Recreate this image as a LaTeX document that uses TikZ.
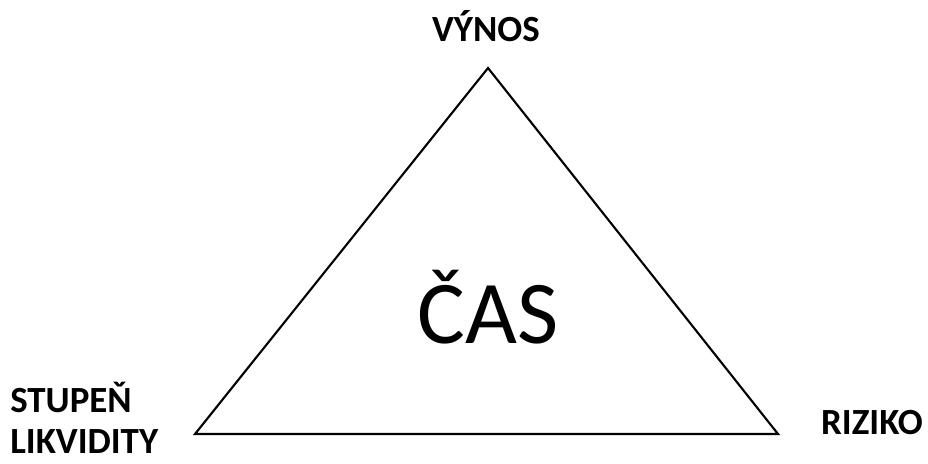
\documentclass[tikz,border=0pt]{standalone}
\usepackage{fontspec}
\setmainfont{Carlito}
\usepackage{tikz}
\usetikzlibrary{positioning}

\begin{document}
\begin{tikzpicture}[x=0.02cm, y=0.02cm,
        corner/.style={font=\bfseries\fontsize{21}{23}\selectfont, inner sep=0pt, align=left},
        side/.style={draw=black, line width=1.2pt, line join=miter}
    ]
    \useasboundingbox (0,0) rectangle (928,463);
    \coordinate (top) at (488,395);
    \coordinate (left) at (195,29);
    \coordinate (right) at (778,29);
    \draw[side] (top) -- (left) -- (right) -- cycle;
    \node[corner] (vynos) at (486,437) {VÝNOS};
    \node[corner, anchor=west] (likv) at (10,45) {STUPEŇ\\LIKVIDITY};
    \node[corner] (riziko) at (872,40) {RIZIKO};
    \node[font=\fontsize{51}{56}\selectfont, inner sep=0pt, anchor=base] (cas) at (488,120) {ČAS};
\end{tikzpicture}
\end{document}
